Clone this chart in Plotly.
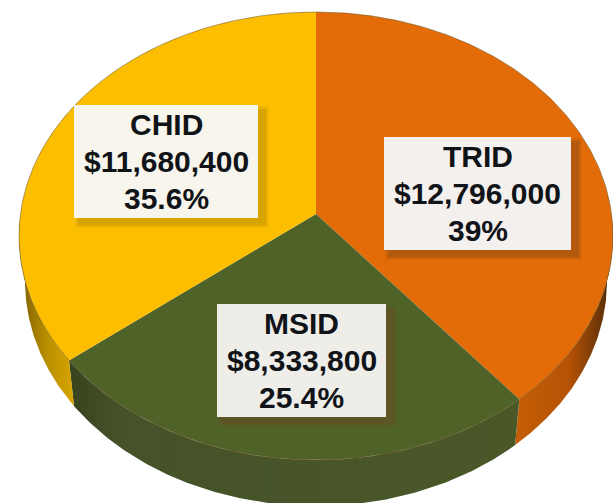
import numpy as np
import plotly.graph_objects as go

categories = ["TRID", "MSID", "CHID"]
amounts = [12796000, 8333800, 11680400]
amount_labels = ["$12,796,000", "$8,333,800", "$11,680,400"]
percent_labels = ["39%", "25.4%", "35.6%"]

TOP = ["#E36C09", "#4F6228", "#FDBE00"]
WALL = [
    [[0, "#C45E06"], [0.55, "#B65205"], [1, "#4E2A08"]],
    [[0, "#38431D"], [0.12, "#45522A"], [1, "#4A5828"]],
    [[0, "#7A5E00"], [0.5, "#B98F00"], [1, "#D8A600"]],
]
BOX = {"TRID": (384, 571, 137, 250, "#F4F0EE", "#8A4A10"),
       "MSID": (217, 386, 304, 417, "#EEEDE8", "#6B4A20"),
       "CHID": (74, 258, 105, 218, "#F8F5EC", "#B98F00")}

APEX = (316, 214)
CX, CY, RX, RY = 316, 236, 297, 224
BCX, BCY, BRX, BRY = 316, 281, 291, 225


def ray_param(theta):
    dx, dy = RX * np.sin(theta), -RY * np.cos(theta)
    # intersection of the ray from the apex with the rim ellipse
    a = (dx / RX) ** 2 + (dy / RY) ** 2
    b = 2 * ((APEX[0] - CX) * dx / RX**2 + (APEX[1] - CY) * dy / RY**2)
    c = ((APEX[0] - CX) / RX) ** 2 + ((APEX[1] - CY) / RY) ** 2 - 1
    t = (-b + np.sqrt(b * b - 4 * a * c)) / (2 * a)
    px, py = APEX[0] + t * dx, APEX[1] + t * dy
    return np.arctan2((px - CX) / RX, -(py - CY) / RY)


shares = np.array(amounts) / sum(amounts)
edges = np.concatenate([[0], np.cumsum(shares)]) * 2 * np.pi
phis = [ray_param(e) % (2 * np.pi) for e in edges[:-1]] + [2 * np.pi]

fig = go.Figure()

# side walls: only the front half of the rim is visible
VIS_START, VIS_END = np.pi / 2 - 0.06, 3 * np.pi / 2 + 0.06
for i in range(3):
    a, b = max(phis[i], VIS_START), min(phis[i + 1], VIS_END)
    p = np.linspace(a, b, 120)
    xt, yt = CX + RX * np.sin(p), CY - RY * np.cos(p)
    xb, yb = BCX + BRX * np.sin(p), BCY - BRY * np.cos(p)
    x = np.concatenate([xt, xb[::-1]])
    y = np.concatenate([yt, yb[::-1]])
    fig.add_trace(go.Scatter(
        x=x, y=y, mode="lines", fill="toself", line=dict(width=0),
        fillgradient=dict(type="horizontal", colorscale=WALL[i]),
        hoverinfo="skip", showlegend=False))

# top surface
for i, cat in enumerate(categories):
    p = np.linspace(phis[i], phis[i + 1], 240)
    x = np.concatenate([[APEX[0]], CX + RX * np.sin(p), [APEX[0]]])
    y = np.concatenate([[APEX[1]], CY - RY * np.cos(p), [APEX[1]]])
    fig.add_trace(go.Scatter(
        x=x, y=y, mode="lines", fill="toself", fillcolor=TOP[i],
        line=dict(width=0), name=cat, hoverinfo="skip", showlegend=False))

# rim line
p = np.linspace(0, 2 * np.pi, 500)
fig.add_trace(go.Scatter(
    x=CX + RX * np.sin(p), y=CY - RY * np.cos(p), mode="lines",
    line=dict(width=1, color="rgba(110,90,40,0.55)"), hoverinfo="skip", showlegend=False))

shapes, annotations = [], []
for i, cat in enumerate(categories):
    x0, x1, y0, y1, fill, shadow = BOX[cat]
    for grow, alpha in [(3, 0.12), (1.5, 0.2), (0, 0.35)]:
        shapes.append(dict(type="rect", xref="x", yref="y", layer="above",
                           x0=x0 + 4 - grow, x1=x1 + 8 + grow, y0=y0 + 4 - grow, y1=y1 + 7 + grow,
                           fillcolor=shadow, opacity=alpha, line=dict(width=0)))
    shapes.append(dict(type="rect", xref="x", yref="y", layer="above",
                       x0=x0, x1=x1, y0=y0, y1=y1, fillcolor=fill, line=dict(width=0)))
    mid = (y0 + y1) / 2
    for line, off in zip([cat, amount_labels[i], percent_labels[i]], [-37, 0, 37]):
        annotations.append(dict(
            x=(x0 + x1) / 2, y=mid + off, xref="x", yref="y", showarrow=False,
            text=f"<b>{line}</b>", align="center",
            font=dict(family="Liberation Sans", size=30, color="#101418")))

fig.update_layout(
    width=613, height=503, margin=dict(l=0, r=0, t=0, b=0),
    paper_bgcolor="white", plot_bgcolor="white", showlegend=False,
    xaxis=dict(range=[0, 613], visible=False, fixedrange=True),
    yaxis=dict(range=[503, 0], visible=False, fixedrange=True),
    shapes=shapes, annotations=annotations)

fig.write_html("out.html", config={"displayModeBar": False},
               post_script="document.body.style.margin='0';document.documentElement.style.overflow='hidden';")
